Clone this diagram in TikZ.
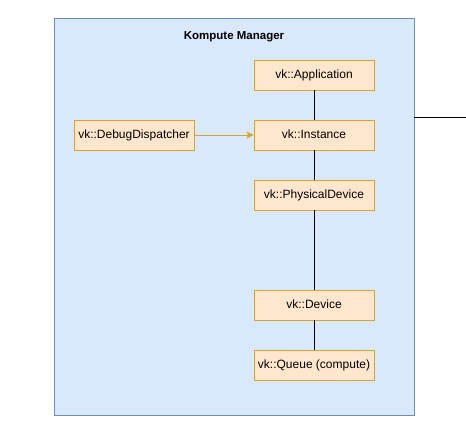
\documentclass[tikz,border=0pt]{standalone}
\usepackage{fontspec}
\setmainfont{Liberation Sans}
\usetikzlibrary{arrows.meta}
\definecolor{mgrfill}{HTML}{DAE8FC}
\definecolor{mgrline}{HTML}{6C8EBF}
\definecolor{vkfill}{HTML}{FFE6CC}
\definecolor{vkline}{HTML}{D6A52A}
\begin{document}
\begin{tikzpicture}[x=1pt, y=-1pt, >={Stealth[length=7pt,width=7pt,inset=1.5pt]},
  vkbox/.style={draw=vkline, fill=vkfill, line width=0.9pt, minimum width=120pt, minimum height=30pt, inner sep=0pt, text height=8.6pt, text depth=2.4pt, font=\fontsize{12}{14}\selectfont},
  link/.style={draw=black, line width=0.9pt}]
\useasboundingbox (0,0) rectangle (466,445);
\node[draw=mgrline, fill=mgrfill, line width=0.9pt, minimum width=360pt, minimum height=397pt, inner sep=0pt] (mgr) at (234,216.5) {};
\node[font=\bfseries\fontsize{11.5}{13}\selectfont] (title) at (234,37) {Kompute Manager};
\coordinate (out) at (466,117);
\node[vkbox] (app) at (314,75) {vk::Application};
\node[vkbox] (inst) at (314,135) {vk::Instance};
\node[vkbox] (phys) at (314,195) {vk::PhysicalDevice};
\node[vkbox] (dev) at (314,305) {vk::Device};
\node[vkbox] (queue) at (314,365) {vk::Queue (compute)};
\node[vkbox] (dbg) at (134,135) {vk::DebugDispatcher};
\tikzset{-}
\draw[link] (app) -- (inst);
\draw[link] (inst) -- (phys);
\draw[link] (phys) -- (dev);
\draw[link] (dev) -- (queue);
\draw[link] (mgr.east |- out) -- (out);
\tikzset{->}
\draw[vkline, line width=0.9pt] (dbg) -- (inst);
\end{tikzpicture}
\end{document}
